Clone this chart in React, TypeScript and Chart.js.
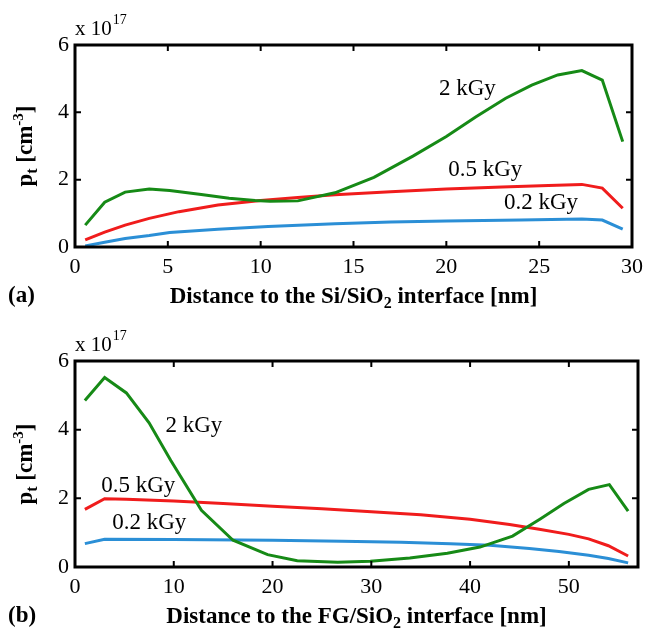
import React, { useEffect, useRef } from "react";
import { Chart, registerables } from "chart.js";
Chart.register(...registerables);

const FONT = '"Liberation Serif", "Times New Roman", serif';

// ---------- Panel (a): distance to the Si/SiO2 interface ----------
const aGreenX = [0.55, 1.6, 2.7, 4.0, 5.1, 6.8, 8.3, 9.7, 10.5, 12.0, 14.0, 16.1, 18.2, 20.0, 21.6, 23.2, 24.6, 26.0, 27.3, 28.4, 29.5];
const aGreenY = [0.65, 1.33, 1.63, 1.72, 1.68, 1.56, 1.45, 1.38, 1.36, 1.37, 1.61, 2.07, 2.7, 3.28, 3.87, 4.42, 4.81, 5.11, 5.24, 4.96, 3.13];
const aRedX = [0.55, 1.6, 2.7, 4.0, 5.6, 7.7, 10.0, 12.0, 14.0, 17.0, 20.0, 23.0, 25.5, 27.3, 28.4, 29.5];
const aRedY = [0.21, 0.44, 0.65, 0.85, 1.05, 1.25, 1.38, 1.47, 1.55, 1.64, 1.72, 1.78, 1.83, 1.86, 1.75, 1.15];
const aBlueX = [0.55, 1.6, 2.7, 4.0, 5.1, 7.7, 10.4, 14.0, 17.0, 20.0, 24.0, 27.3, 28.4, 29.5];
const aBlueY = [0.03, 0.14, 0.25, 0.34, 0.43, 0.53, 0.61, 0.69, 0.74, 0.77, 0.8, 0.83, 0.8, 0.53];
const aXTicks = [0, 5, 10, 15, 20, 25, 30];

// ---------- Panel (b): distance to the FG/SiO2 interface ----------
const bGreenX = [1.0, 3.0, 5.2, 7.5, 9.7, 12.8, 16.0, 19.5, 22.5, 26.6, 29.9, 33.9, 37.7, 41.0, 44.3, 47.1, 49.5, 52.0, 54.1, 56.0];
const bGreenY = [4.85, 5.52, 5.07, 4.2, 3.1, 1.65, 0.78, 0.36, 0.18, 0.14, 0.17, 0.26, 0.4, 0.58, 0.9, 1.4, 1.85, 2.26, 2.4, 1.63];
const bRedX = [1.0, 3.0, 5.2, 10.0, 15.0, 20.0, 25.0, 30.0, 35.0, 40.0, 44.0, 47.0, 50.0, 52.0, 54.0, 56.0];
const bRedY = [1.68, 1.99, 1.97, 1.92, 1.85, 1.77, 1.7, 1.61, 1.52, 1.39, 1.24, 1.1, 0.95, 0.82, 0.62, 0.32];
const bBlueX = [1.0, 3.0, 10.0, 20.0, 27.0, 33.0, 38.0, 42.0, 46.0, 49.0, 52.0, 54.0, 56.0];
const bBlueY = [0.68, 0.81, 0.8, 0.78, 0.75, 0.72, 0.68, 0.63, 0.54, 0.45, 0.34, 0.25, 0.12];
const bXTicks = [0, 10, 20, 30, 40, 50];

const yTicks = [0, 2, 4, 6];
const doseLabels = ["2 kGy", "0.5 kGy", "0.2 kGy"];
// label anchors in data units (x, y) for each panel
const aLabelX = [19.6, 20.1, 23.1];
const aLabelY = [4.51, 2.11, 1.13];
const bLabelX = [9.16, 2.65, 3.77];
const bLabelY = [3.93, 2.19, 1.12];

const GREEN = "#168a16";
const RED = "#f01c1c";
const BLUE = "#2b8fd6";

type Part = { t: string; size: number; dy?: number; bold?: boolean };

function setFont(ctx: CanvasRenderingContext2D, p: Part) {
  ctx.font = `${p.bold ? "bold " : ""}${p.size}px ${FONT}`;
}
function drawRich(ctx: CanvasRenderingContext2D, parts: Part[], x: number, y: number, align: "left" | "center") {
  let w = 0;
  for (const p of parts) {
    setFont(ctx, p);
    w += ctx.measureText(p.t).width;
  }
  let cx = align === "center" ? x - w / 2 : x;
  ctx.textAlign = "left";
  ctx.textBaseline = "alphabetic";
  for (const p of parts) {
    setFont(ctx, p);
    ctx.fillText(p.t, cx, y + (p.dy || 0));
    cx += ctx.measureText(p.t).width;
  }
  return cx;
}

type PanelSpec = {
  height: number;
  padTop: number;
  padRight: number;
  xAxisH: number;
  xMax: number;
  xTicks: number[];
  series: { xs: number[]; ys: number[]; color: string }[];
  labelX: number[];
  labelY: number[];
  tag: string;
  iface: string;
};

function makeChart(canvas: HTMLCanvasElement, spec: PanelSpec) {
  const plugin = {
    id: "matlabFrame",
    afterDraw(chart: any) {
      const { ctx, chartArea: a } = chart;
      const xs = chart.scales.x;
      const ys = chart.scales.y;
      ctx.save();
      ctx.strokeStyle = "#000";
      ctx.fillStyle = "#000";
      ctx.lineWidth = 2;
      ctx.beginPath();
      for (const t of xs.ticks) {
        const px = xs.getPixelForValue(t.value);
        ctx.moveTo(px, a.bottom);
        ctx.lineTo(px, a.bottom - 6);
        ctx.moveTo(px, a.top);
        ctx.lineTo(px, a.top + 6);
      }
      for (const t of ys.ticks) {
        const py = ys.getPixelForValue(t.value);
        ctx.moveTo(a.left, py);
        ctx.lineTo(a.left + 6, py);
        ctx.moveTo(a.right, py);
        ctx.lineTo(a.right - 6, py);
      }
      ctx.stroke();
      ctx.lineWidth = 3;
      ctx.strokeRect(a.left, a.top, a.right - a.left, a.bottom - a.top);

      // dose labels at data coordinates
      for (let i = 0; i < doseLabels.length; i++) {
        drawRich(ctx, [{ t: doseLabels[i], size: 23 }], xs.getPixelForValue(spec.labelX[i]), ys.getPixelForValue(spec.labelY[i]), "left");
      }
      // exponent
      const ex = drawRich(ctx, [{ t: "x 10", size: 21 }], a.left, a.top - 10, "left");
      drawRich(ctx, [{ t: "17", size: 14 }], ex + 1, a.top - 21, "left");

      // x title
      const cx = (a.left + a.right) / 2;
      drawRich(
        ctx,
        [
          { t: `Distance to the ${spec.iface}/SiO`, size: 23, bold: true },
          { t: "2", size: 16, dy: 5, bold: true },
          { t: " interface [nm]", size: 23, bold: true },
        ],
        cx,
        a.bottom + 56,
        "center"
      );
      drawRich(ctx, [{ t: spec.tag, size: 23, bold: true }], 8, a.bottom + 55, "left");

      // y title (rotated)
      ctx.translate(32, (a.top + a.bottom) / 2);
      ctx.rotate(-Math.PI / 2);
      drawRich(
        ctx,
        [
          { t: "p", size: 23, bold: true },
          { t: "t", size: 16, dy: 5, bold: true },
          { t: " [cm", size: 23, bold: true },
          { t: "-3", size: 15, dy: -9, bold: true },
          { t: "]", size: 23, bold: true },
        ],
        0,
        0,
        "center"
      );
      ctx.restore();
    },
  };

  const tickFont = { family: FONT, size: 22 };
  return new Chart(canvas, {
    type: "line",
    data: {
      datasets: spec.series.map((s) => ({
        data: s.xs.map((x, i) => ({ x, y: s.ys[i] })),
        borderColor: s.color,
        backgroundColor: s.color,
        borderWidth: 3,
        pointRadius: 0,
        tension: 0,
        fill: false,
      })),
    },
    options: {
      responsive: false,
      animation: false,
      devicePixelRatio: 1,
      layout: { padding: { left: 0, right: spec.padRight, top: spec.padTop, bottom: 0 } },
      plugins: { legend: { display: false }, tooltip: { enabled: false } },
      scales: {
        x: {
          type: "linear",
          min: 0,
          max: spec.xMax,
          grid: { display: false, drawTicks: false },
          border: { display: false },
          afterBuildTicks: (s: any) => {
            s.ticks = spec.xTicks.map((v) => ({ value: v }));
          },
          afterFit: (s: any) => {
            s.height = spec.xAxisH;
          },
          ticks: { autoSkip: false, maxRotation: 0, color: "#000", font: tickFont, padding: 7 },
        },
        y: {
          type: "linear",
          min: 0,
          max: 6,
          grid: { display: false, drawTicks: false },
          border: { display: false },
          afterBuildTicks: (s: any) => {
            s.ticks = yTicks.map((v) => ({ value: v }));
          },
          afterFit: (s: any) => {
            s.width = 75;
          },
          ticks: { autoSkip: false, color: "#000", font: tickFont, padding: 6 },
        },
      },
    } as any,
    plugins: [plugin],
  });
}

function Panel({ spec, top }: { spec: PanelSpec; top: number }) {
  const ref = useRef<HTMLCanvasElement>(null);
  useEffect(() => {
    const c = makeChart(ref.current!, spec);
    return () => c.destroy();
  }, []);
  return (
    <canvas
      ref={ref}
      width={650}
      height={spec.height}
      style={{ position: "absolute", left: 0, top, width: 650, height: spec.height, display: "block" }}
    />
  );
}

const specA: PanelSpec = {
  height: 315,
  padTop: 45,
  padRight: 13,
  xAxisH: 68,
  xMax: 30,
  xTicks: aXTicks,
  series: [
    { xs: aGreenX, ys: aGreenY, color: GREEN },
    { xs: aRedX, ys: aRedY, color: RED },
    { xs: aBlueX, ys: aBlueY, color: BLUE },
  ],
  labelX: aLabelX,
  labelY: aLabelY,
  tag: "(a)",
  iface: "Si",
};

const specB: PanelSpec = {
  height: 316,
  padTop: 46,
  padRight: 12,
  xAxisH: 64,
  xMax: 57,
  xTicks: bXTicks,
  series: [
    { xs: bGreenX, ys: bGreenY, color: GREEN },
    { xs: bRedX, ys: bRedY, color: RED },
    { xs: bBlueX, ys: bBlueY, color: BLUE },
  ],
  labelX: bLabelX,
  labelY: bLabelY,
  tag: "(b)",
  iface: "FG",
};

export default function App() {
  return (
    <div style={{ position: "absolute", left: 0, top: 0, width: 650, height: 631, background: "#fff" }}>
      <Panel spec={specA} top={0} />
      <Panel spec={specB} top={315} />
    </div>
  );
}
